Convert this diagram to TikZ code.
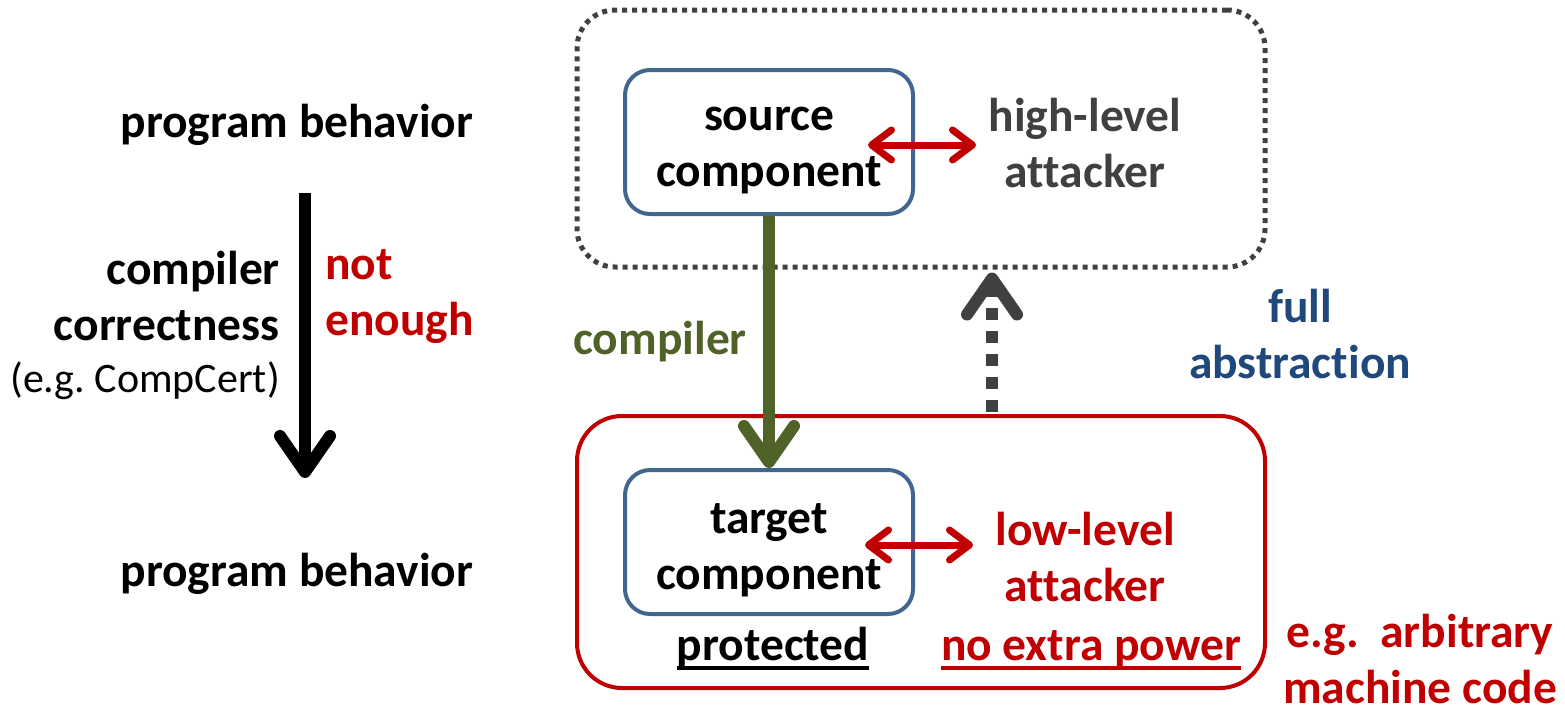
\documentclass[tikz,border=0pt]{standalone}
\usepackage{fontspec}
\setmainfont{Carlito}[Ligatures={NoCommon}]
\usetikzlibrary{arrows.meta}
\definecolor{cred}{HTML}{C00000}
\definecolor{cgreen}{HTML}{4F6228}
\definecolor{cbox}{HTML}{41678F}
\definecolor{cfull}{HTML}{1F497D}
\definecolor{cgray}{HTML}{404040}
\tikzset{
  txt/.style={inner sep=0pt, align=center, font=\fontsize{47.5}{56}\selectfont\bfseries},
  comp/.style={draw=cbox, line width=4pt, rounded corners=25pt, minimum width=288pt, minimum height=144pt, inner sep=0pt},
  bigarrow/.style={line width=12pt, -{Straight Barb[length=36pt,width=50pt,round]}},
  redarrow/.style={cred, line width=7pt, {Straight Barb[length=20pt,width=30pt,round]}-{Straight Barb[length=20pt,width=30pt,round]}},
  uline/.style={line width=4pt}
}
\begin{document}
\begin{tikzpicture}[x=1pt,y=-1pt]
\useasboundingbox (0,0) rectangle (1565,713);
% regions
\node[draw=cgray, line width=5pt, dash pattern=on 5pt off 5pt, rounded corners=38pt,
      minimum width=688pt, minimum height=257pt, inner sep=0pt] (highbox) at (921,138.5) {};
\node[draw=cred, line width=4pt, rounded corners=45pt,
      minimum width=688pt, minimum height=272pt, inner sep=0pt] (lowbox) at (921,552) {};
% left column
\node[txt] (pb1) at (297,125) {program behavior};
\node[txt] (pb2) at (297,574) {program behavior};
\node[txt, align=right, anchor=east] (cc) at (280,296) {compiler\\correctness};
\node[txt, anchor=east, font=\fontsize{42}{52}\selectfont] (cert) at (280,381) {(e.g.\ CompCert)};
\node[txt, align=left, anchor=west, text=cred] (ne) at (325,297) {not\\enough};
\coordinate (ba1) at (305,193);
\coordinate (ba2) at (305,478);
\draw[bigarrow, black] (ba1) -- (ba2);
% components
\node[comp] (src) at (769,142) {};
\node[txt] (srct) at (769,150) {source\\component};
\node[comp] (tgt) at (769,542) {};
\node[txt] (tgtt) at (769,550) {target\\component};
\node[txt, text=cgray] (hi) at (1085,143) {high-level\\attacker};
\node[txt, text=cred] (lo) at (1085,557) {low-level\\attacker};
\draw[redarrow] ([xshift=-47pt,yshift=-3pt]src.east) -- ([xshift=61pt,yshift=-3pt]src.east);
\draw[redarrow] ([xshift=-50pt,yshift=-3pt]tgt.east) -- ([xshift=58pt,yshift=-3pt]tgt.east);
% compiler
\draw[bigarrow, cgreen] (src.south) -- (tgt.north);
\node[txt, text=cgreen] (comp) at (660,342) {compiler};
% full abstraction
\coordinate (fa) at (992,0);
\draw[bigarrow, cgray, dash pattern=on 12pt off 11pt] ([yshift=2pt]lowbox.north -| fa) -- ([yshift=-3pt]highbox.south -| fa);
\node[txt, text=cfull] (full) at (1300,334) {full\\abstraction};
% labels under
\node[txt, anchor=base] (prot) at (773,660) {protected};
\draw[uline, black] ([yshift=-8pt]prot.base west) -- ([yshift=-8pt]prot.base east);
\node[txt, anchor=base, text=cred] (nep) at (1091,660) {no extra power};
\draw[uline, cred] ([yshift=-8pt]nep.base west) -- ([yshift=-8pt]nep.base east);
\node[txt, text=cred] (eg) at (1420,659) {e.g.\ \ arbitrary\\machine code};
\end{tikzpicture}
\end{document}
